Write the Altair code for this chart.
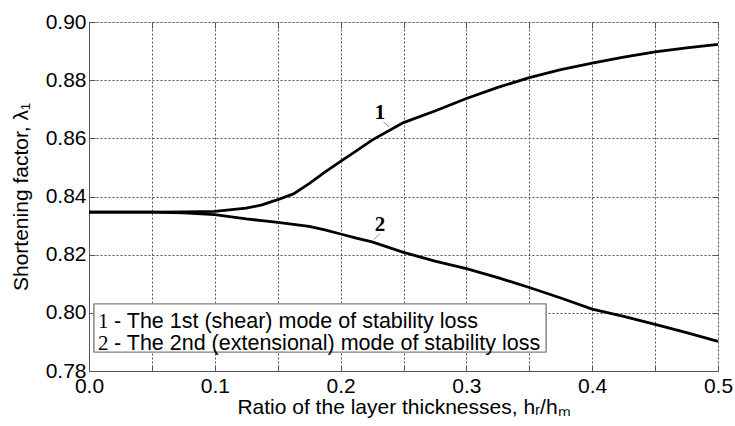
import altair as alt
import pandas as pd

# ---- data ----
x_vals = [0.0, 0.025, 0.05, 0.075, 0.1, 0.125, 0.1375, 0.15, 0.1625, 0.175, 0.1875,
          0.2, 0.2125, 0.225, 0.25, 0.275, 0.3, 0.325, 0.35, 0.375, 0.4, 0.425,
          0.45, 0.475, 0.5]
mode1 = [0.8346, 0.8346, 0.8346, 0.8347, 0.8349, 0.8360, 0.8371, 0.8389, 0.8409,
         0.8444, 0.8484, 0.8521, 0.8557, 0.8594, 0.8654, 0.8694, 0.8737, 0.8775,
         0.8809, 0.8836, 0.8859, 0.8879, 0.8897, 0.8911, 0.8923]
mode2 = [0.8346, 0.8346, 0.8346, 0.8344, 0.8338, 0.8323, 0.8317, 0.8311, 0.8304,
         0.8297, 0.8285, 0.8271, 0.8257, 0.8244, 0.8208, 0.8178, 0.8152, 0.8121,
         0.8087, 0.8051, 0.8013, 0.7988, 0.7960, 0.7932, 0.7902]

x_label_ticks = [0.0, 0.1, 0.2, 0.3, 0.4, 0.5]
x_minor_ticks = [0.0, 0.05, 0.1, 0.15, 0.2, 0.25, 0.3, 0.35, 0.4, 0.45, 0.5]
y_ticks = [0.78, 0.80, 0.82, 0.84, 0.86, 0.88, 0.90]

curve_labels = ["1", "2"]
curve_label_x = [0.2313, 0.2313]
curve_label_y = [0.8686, 0.8301]
leader_x = [0.2340, 0.2388, 0.2313, 0.2266]
leader_y = [0.8657, 0.8638, 0.8273, 0.8252]
leader_id = ["1", "1", "2", "2"]

legend_nums = ["1", "2"]
legend_texts = ["- The 1st (shear) mode of stability loss",
                "- The 2nd (extensional) mode of stability loss"]

x_title = "Ratio of the layer thicknesses, h\u1d63/h\u2098"
y_title = "Shortening factor, \u03bb\u2081"

# ---- layout ----
W, H = 629, 349
FONT = "Liberation Sans"
SERIF = "Liberation Serif"
AX = "#555555"

df = pd.DataFrame({
    "x": x_vals * 2,
    "y": mode1 + mode2,
    "mode": ["1"] * len(x_vals) + ["2"] * len(x_vals),
})
lab_df = pd.DataFrame({"x": curve_label_x, "y": curve_label_y, "t": curve_labels})
lead_df = pd.DataFrame({"x": leader_x, "y": leader_y, "id": leader_id})
leg_df = pd.DataFrame({"num": legend_nums, "txt": legend_texts, "row": [0, 1]})

xs = alt.Scale(domain=[0, 0.5], nice=False, zero=False)
ys = alt.Scale(domain=[0.78, 0.90], nice=False, zero=False)

base = alt.Chart(df)

main = base.mark_line(color="black", strokeWidth=2.8).encode(
    x=alt.X("x:Q", scale=xs, axis=alt.Axis(
        orient="bottom", values=x_label_ticks, format=".1f", grid=False, ticks=False,
        labelFontSize=21, labelFont=FONT, labelColor="black", labelPadding=4,
        labelFlush=False, domain=True, domainColor=AX,
        title=x_title, titleFont=FONT, titleFontSize=21, titleFontWeight="normal",
        titleColor="black", titlePadding=0)),
    y=alt.Y("y:Q", scale=ys, axis=alt.Axis(
        orient="left", values=y_ticks, format=".2f", grid=False, ticks=False,
        labelFontSize=21, labelFont=FONT, labelColor="black", labelPadding=3,
        labelFlush=False, domain=True, domainColor=AX,
        title=y_title, titleFont=FONT, titleFontSize=21, titleFontWeight="normal",
        titleColor="black", titlePadding=14)),
    detail="mode:N",
)

# inward ticks + grid on the bottom and left edges
ticks_a = base.mark_line(strokeOpacity=0).encode(
    x=alt.X("x:Q", scale=xs, axis=alt.Axis(
        orient="top", offset=-H, values=x_minor_ticks, labels=False, domain=False,
        grid=True, gridColor=AX, gridDash=[2, 2], gridWidth=1,
        ticks=True, tickSize=6, tickColor=AX, title=None)),
    y=alt.Y("y:Q", scale=ys, axis=alt.Axis(
        orient="right", offset=-W, values=y_ticks, labels=False, domain=False,
        grid=True, gridColor=AX, gridDash=[2, 2], gridWidth=1,
        ticks=True, tickSize=6, tickColor=AX, title=None)),
    detail="mode:N",
)

# inward ticks on the top and right edges
ticks_b = base.mark_line(strokeOpacity=0).encode(
    x=alt.X("x:Q", scale=xs, axis=alt.Axis(
        orient="bottom", offset=-H, values=x_minor_ticks, labels=False, domain=False,
        grid=False, ticks=True, tickSize=6, tickColor=AX, title=None)),
    y=alt.Y("y:Q", scale=ys, axis=alt.Axis(
        orient="left", offset=-W, values=y_ticks, labels=False, domain=False,
        grid=False, ticks=True, tickSize=6, tickColor=AX, title=None)),
    detail="mode:N",
)

leaders = alt.Chart(lead_df).mark_line(color="#888888", strokeWidth=1).encode(
    x=alt.X("x:Q", scale=xs, axis=None), y=alt.Y("y:Q", scale=ys, axis=None),
    detail="id:N")

labels = alt.Chart(lab_df).mark_text(
    font=SERIF, fontSize=21, fontWeight="bold", color="black"
).encode(x=alt.X("x:Q", scale=xs, axis=None), y=alt.Y("y:Q", scale=ys, axis=None),
         text="t:N")

legend_box = alt.Chart(leg_df).mark_rect(
    fill="white", stroke="#808080", strokeWidth=1.2
).encode(x=alt.value(5), x2=alt.value(457), y=alt.value(282), y2=alt.value(330))

row_y = [300, 322]
leg_layers = []
for r in (0, 1):
    src = alt.Chart(leg_df).transform_filter(alt.datum.row == r)
    leg_layers.append(src.mark_text(
        font=SERIF, fontSize=21, align="left", baseline="middle", color="black"
    ).encode(x=alt.value(9), y=alt.value(row_y[r]), text="num:N"))
    leg_layers.append(src.mark_text(
        font=FONT, fontSize=21.5, align="left", baseline="middle", color="black"
    ).encode(x=alt.value(25), y=alt.value(row_y[r]), text="txt:N"))

chart = alt.layer(main, ticks_a, ticks_b, leaders, labels, legend_box, *leg_layers).resolve_axis(
    x="independent", y="independent"
).properties(
    width=W, height=H,
    autosize=alt.AutoSizeParams(type="none"),
    padding={"left": 89, "top": 22, "right": 17, "bottom": 55},
).configure_view(stroke=AX, strokeWidth=1).configure(background="white")

chart.save("out.html", embed_options={"renderer": "svg", "actions": False})
